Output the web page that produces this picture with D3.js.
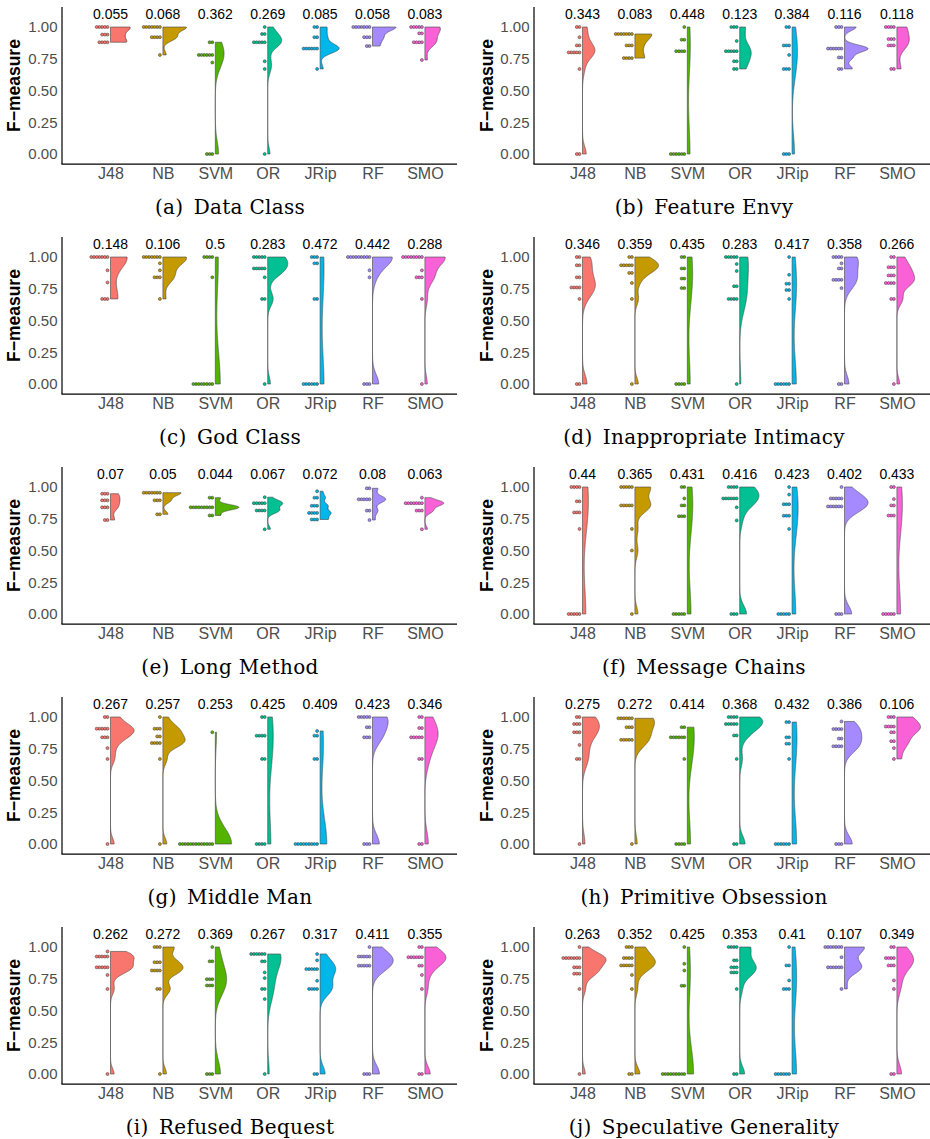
<!DOCTYPE html>
<html><head><meta charset="utf-8">
<script src="https://cdn.jsdelivr.net/npm/d3@7"></script>
<style>body{margin:0;background:#fff} svg{display:block}</style>
</head><body>
<svg id="chart" width="930" height="1139"></svg>
<script>
const classifiers = ["J48","NB","SVM","OR","JRip","RF","SMO"];
const colors = ["#F8766D","#C49A00","#53B400","#00C094","#00B6EB","#A58AFF","#FB61D7"];
const yTicks = [0, 0.25, 0.5, 0.75, 1];
const captions = ["(a)\u2002Data Class","(b)\u2002Feature Envy","(c)\u2002God Class","(d)\u2002Inappropriate Intimacy","(e)\u2002Long Method","(f)\u2002Message Chains","(g)\u2002Middle Man","(h)\u2002Primitive Obsession","(i)\u2002Refused Bequest","(j)\u2002Speculative Generality"];

const sdLabels = [
 ["0.055","0.068","0.362","0.269","0.085","0.058","0.083"],
 ["0.343","0.083","0.448","0.123","0.384","0.116","0.118"],
 ["0.148","0.106","0.5","0.283","0.472","0.442","0.288"],
 ["0.346","0.359","0.435","0.283","0.417","0.358","0.266"],
 ["0.07","0.05","0.044","0.067","0.072","0.08","0.063"],
 ["0.44","0.365","0.431","0.416","0.423","0.402","0.433"],
 ["0.267","0.257","0.253","0.425","0.409","0.423","0.346"],
 ["0.275","0.272","0.414","0.368","0.432","0.386","0.106"],
 ["0.262","0.272","0.369","0.267","0.317","0.411","0.355"],
 ["0.263","0.352","0.425","0.353","0.41","0.107","0.349"]
];

const dataClass = [
 [1,1,1,1,1,.94,.94,.94,.88,.88,.88,.88],
 [1,1,1,1,1,1,1,.92,.92,.92,.92,.78],
 [.88,.88,.78,.78,.78,.78,.78,.78,.72,0,0,0],
 [1,.945,.945,.88,.88,.88,.88,.88,.73,.67,0],
 [1,1,.92,.92,.83,.83,.83,.83,.83,.83,.67],
 [1,1,1,1,1,1,1,.92,.92,.92,.85,.85],
 [1,1,1,1,1,.95,.95,.88,.88,.88,.88,.74]
];
const featureEnvy = [
 [1,1,.92,.855,.855,.8,.8,.8,.8,.8,.67,0,0],
 [.945,.945,.945,.945,.945,.945,.945,.855,.855,.855,.755,.755,.755,.755],
 [1,.9,.9,.81,.81,.81,.81,0,0,0,0,0,0],
 [1,1,1,.89,.81,.81,.81,.81,.81,.73,.73,.67,.67],
 [1,1,.855,.855,.855,.78,.67,.67,.67,0,0,0],
 [1,1,1,.83,.83,.83,.83,.83,.83,.76,.76,.67,.67],
 [1,1,1,1,.905,.905,.905,.855,.855,.855,.67,.67]
];
const godClass = [
 [1,1,1,1,1,1,1,.895,.8,.67,.67,.67],
 [1,1,1,1,1,1,1,.95,.895,.84,.84,.84,.67],
 [1,1,1,1,.84,0,0,0,0,0,0,0,0],
 [1,1,1,1,1,.91,.91,.91,.91,.91,.84,.67,.67,0],
 [1,1,1,.95,.95,.67,.67,0,0,0,0,0,0],
 [1,1,1,1,1,1,1,1,1,.895,.84,0,0,0],
 [1,1,1,1,1,1,1,1,.895,.84,.84,.84,.67,0]
];
const inappropriateIntimacy = [
 [1,1,.935,.935,.84,.84,.76,.76,.76,.76,.67,0,0],
 [1,1,.935,.935,.935,.935,.935,.875,.875,.795,.67,0],
 [1,1,.91,.91,.83,.83,.755,.755,0,0,0,0],
 [1,1,1,1,1,.945,.89,.77,.77,.67,.67,.67,.67,0],
 [1,.86,.79,.79,.74,.74,.67,0,0,0,0,0,0],
 [1,1,1,1,.95,.91,.91,.82,.82,.82,.82,.755,0,0],
 [1,1,.92,.92,.92,.855,.855,.855,.795,.795,.795,.795,.67,.67,0]
];
const longMethod = [
 [.947,.947,.947,.895,.895,.895,.84,.84,.84,.74,.74],
 [.955,.955,.955,.955,.955,.955,.955,.895,.895,.895,.785,.785],
 [.916,.916,.84,.84,.84,.84,.84,.84,.84,.84,.84,.776,.776],
 [.92,.873,.873,.873,.873,.873,.815,.815,.815,.815,.667],
 [.967,.916,.916,.852,.852,.852,.796,.796,.796,.796,.744,.744,.744],
 [.99,.99,.903,.903,.903,.903,.903,.814,.814,.74],
 [.916,.873,.873,.873,.873,.873,.873,.873,.814,.814,.814,.667]
];
const messageChains = [
 [1,1,1,1,.887,.887,.8,.8,.8,.67,0,0,0,0,0],
 [1,1,1,1,1,.855,.855,.855,.855,.855,.67,.5,0],
 [1,1,.91,.855,.855,.77,.77,.77,0,0,0,0,0],
 [1,1,1,1,.91,.91,.91,.91,.91,.91,.84,.737,0,0,0],
 [1,.94,.865,.865,.865,.774,.774,.774,.67,0,0,0,0,0],
 [1,.91,.91,.91,.91,.91,.847,.847,.847,.847,.847,.847,0,0,0],
 [1,1,.905,.855,.855,.775,.775,.775,0,0,0,0,0]
];
const middleMan = [
 [1,1,.908,.908,.908,.908,.908,.84,.84,.84,.755,.67,0],
 [1,.908,.908,.908,.847,.847,.795,.795,.795,.795,.67,0],
 [.88,0,0,0,0,0,0,0,0,0,0,0,0,0],
 [1,1,.853,.853,.853,.853,.67,.67,0,0,0,0],
 [.89,.853,.853,.67,.67,0,0,0,0,0,0,0,0,0],
 [1,1,1,1,1,.92,.92,.84,.84,.84,0,0,0],
 [1,1,.913,.913,.84,.84,.84,.84,.84,.67,.67,0,0]
];
const primitiveObsession = [
 [1,1,.945,.945,.945,.88,.88,.88,.78,.67,.67,0],
 [.99,.99,.99,.99,.99,.99,.92,.92,.92,.82,.82,.82,.82,.82,0],
 [.92,.92,.84,.84,.84,.84,.84,.84,.67,0,0,0,0],
 [1,1,1,1,.945,.945,.945,.945,.945,.855,.855,.67,0,0],
 [.96,.96,.84,.84,.79,.79,.67,0,0,0,0,0,0],
 [.965,.905,.905,.905,.905,.83,.83,.77,.77,.77,.77,0,0,0],
 [1,1,1,.925,.925,.925,.925,.88,.88,.81,.81,.755,.67]
];
const refusedBequest = [
 [.965,.925,.925,.925,.925,.925,.84,.84,.84,.84,.84,.78,.67,0],
 [1,1,1,.88,.88,.88,.815,.815,.815,.815,.67,.67,0],
 [1,.887,.887,.747,.747,.747,.697,.697,.697,0,0,0],
 [.945,.945,.945,.945,.945,.945,.887,.887,.8,.755,.67,.67,.59,0],
 [.945,.895,.826,.826,.826,.826,.826,.734,.67,.67,.67,.67,0,0],
 [1,.925,.925,.925,.925,.925,.853,.853,.853,.853,.853,0,0,0],
 [1,1,.92,.92,.92,.92,.92,.92,.853,.853,.78,.67,0,0]
];
const speculativeGenerality = [
 [1,.913,.913,.913,.913,.913,.913,.913,.84,.84,.84,.79,.79,.79,.67,0],
 [1,1,1,.913,.913,.913,.913,.855,.855,.855,.855,.855,.78,.67,0,0],
 [1,.868,.815,.695,.695,0,0,0,0,0,0,0,0,0],
 [1,1,1,1,.895,.895,.84,.84,.84,.8,.8,.8,.67,0,0],
 [1,.855,.855,.737,.67,.67,.67,0,0,0,0,0,0],
 [1,1,1,1,1,1,1,.92,.84,.84,.84,.84,.84,.84,.67],
 [1,1,.913,.913,.913,.913,.855,.855,.855,.737,.67,0,0]
];

const panels = [dataClass, featureEnvy, godClass, inappropriateIntimacy, longMethod,
                messageChains, middleMan, primitiveObsession, refusedBequest, speculativeGenerality];

// ---------- layout ----------
const cols = [
  {axisX: 62, endX: 457, titleX: 14, capX: 230},
  {axisX: 534, endX: 930, titleX: 487, capX: 704}
];
const rowStep = 230, zeroY = 154, oneY = 27;
const catOffset = 48.5, catStep = 52.4;
const halfWidth = 0.45 * catStep;
const dotR = 1.5, dotStep = 2.7, dotGap = 3.0;

function kde(vals) {
  const s = [...vals].sort(d3.ascending), n = s.length;
  const hi = d3.deviation(s);
  const iqr = d3.quantileSorted(s, 0.75) - d3.quantileSorted(s, 0.25);
  let lo = Math.min(hi, iqr / 1.34);
  if (lo > 0) lo = Math.max(lo, 0.33 * hi);
  else lo = hi || Math.abs(s[0]) || 1;
  const bw = 0.9 * lo * Math.pow(n, -0.2);
  const mn = s[0], mx = s[n - 1];
  return d3.range(512).map(i => {
    const t = mn + (mx - mn) * i / 511;
    let acc = 0;
    for (const v of s) { const z = (t - v) / bw; acc += Math.exp(-0.5 * z * z); }
    return [t, acc / (n * bw * Math.sqrt(2 * Math.PI))];
  });
}

const svg = d3.select("#chart");
const sans = "'Liberation Sans', Arial, Helvetica, sans-serif";

panels.forEach((groups, pi) => {
  const c = cols[pi % 2], row = Math.floor(pi / 2), off = row * rowStep;
  const y = d3.scaleLinear().domain([0, 1]).range([zeroY + off, oneY + off]);
  const x = d3.scalePoint().domain(classifiers)
    .range([c.axisX + catOffset, c.axisX + catOffset + 6 * catStep]);
  const g = svg.append("g");

  const topY = y(1.157), botY = y(-0.079);

  // violins
  const dens = groups.map(kde);
  const maxD = d3.max(dens, d => d3.max(d, p => p[1]));
  const line = d3.line();
  groups.forEach((vals, ci) => {
    const cx = x(classifiers[ci]);
    const d = dens[ci];
    const pts = [[cx, y(d[0][0])]]
      .concat(d.map(p => [cx + p[1] / maxD * halfWidth, y(p[0])]))
      .concat([[cx, y(d[d.length - 1][0])]]);
    g.append("path").attr("d", line(pts) + "Z")
      .attr("fill", colors[ci]).attr("stroke", "#444").attr("stroke-width", 0.6)
      .attr("stroke-linejoin", "round");
  });

  // dots
  groups.forEach((vals, ci) => {
    const cx = x(classifiers[ci]);
    const bins = d3.rollups(vals, v => v.length, v => v);
    bins.forEach(([v, k]) => {
      for (let j = 0; j < k; j++) {
        g.append("circle").attr("cx", cx - dotGap - j * dotStep).attr("cy", y(v))
          .attr("r", dotR).attr("fill", colors[ci]).attr("stroke", "#333").attr("stroke-width", 0.5);
      }
    });
  });

  // sd labels
  g.selectAll("text.sd").data(sdLabels[pi]).join("text").attr("class", "sd")
    .attr("x", (d, i) => x(classifiers[i])).attr("y", y(1.1))
    .attr("text-anchor", "middle").attr("dominant-baseline", "central")
    .attr("font-family", sans).attr("font-size", 14).attr("fill", "#000").text(d => d);

  // y axis
  const ya = g.append("g").attr("transform", `translate(${c.axisX},0)`)
    .call(d3.axisLeft(y).tickValues(yTicks).tickFormat(d3.format(".2f")).tickSize(0).tickPadding(4.5));
  ya.select(".domain").remove();
  ya.selectAll("text").attr("font-family", sans).attr("font-size", 15).attr("fill", "#4d4d4d");

  // x axis
  const xa = g.append("g").attr("transform", `translate(0,${botY})`)
    .call(d3.axisBottom(x).tickSize(0).tickPadding(4));
  xa.select(".domain").remove();
  xa.selectAll("text").attr("font-family", sans).attr("font-size", 16).attr("fill", "#4d4d4d");

  // axis lines
  g.append("line").attr("x1", c.axisX).attr("x2", c.axisX).attr("y1", topY).attr("y2", botY)
    .attr("stroke", "#000").attr("stroke-width", 1.2);
  g.append("line").attr("x1", c.axisX - 0.6).attr("x2", c.endX).attr("y1", botY).attr("y2", botY)
    .attr("stroke", "#000").attr("stroke-width", 1.2);

  // y title
  g.append("text").attr("transform", `translate(${c.titleX},${(topY + botY) / 2}) rotate(-90)`)
    .attr("text-anchor", "middle").attr("dominant-baseline", "central")
    .attr("font-family", sans).attr("font-weight", "bold").attr("font-size", 17.5)
    .attr("fill", "#000").text("F\u2212measure");

  // caption
  g.append("text").attr("x", c.capX).attr("y", 207 + off)
    .attr("text-anchor", "middle").attr("dominant-baseline", "central")
    .attr("font-family", "'DejaVu Serif', serif").attr("font-size", 20).attr("letter-spacing", 0.3)
    .attr("fill", "#000").text(captions[pi]);
});
</script>
</body></html>
